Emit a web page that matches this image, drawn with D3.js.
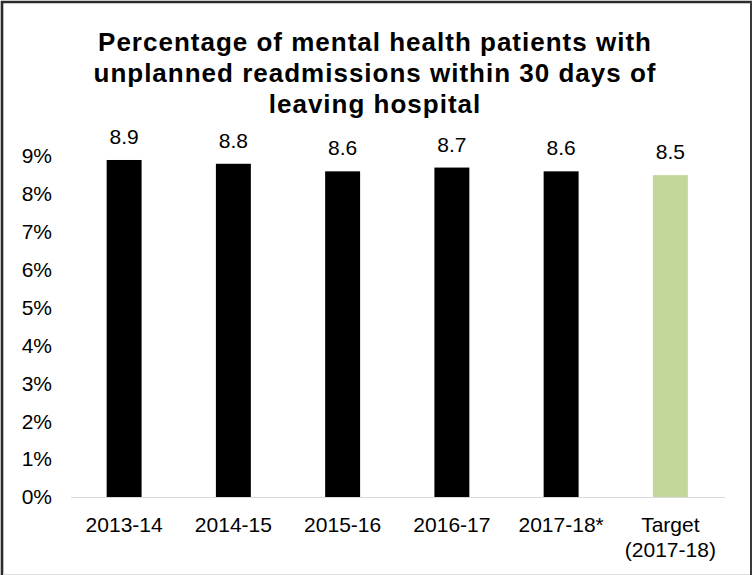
<!DOCTYPE html>
<html>
<head>
<meta charset="utf-8">
<script src="https://cdn.jsdelivr.net/npm/d3@7"></script>
<style>
  html, body { margin: 0; padding: 0; background: #fff; }
  svg { display: block; font-family: "Liberation Sans", Arial, sans-serif; }
</style>
</head>
<body>
<svg id="chart" width="753" height="575"></svg>
<script>
// Readmission rates by year, plus the 2017-18 target
const categories = ["2013-14", "2014-15", "2015-16", "2016-17", "2017-18*", "Target\n(2017-18)"];
const values = [8.9, 8.8, 8.6, 8.7, 8.6, 8.5];
const barColors = ["#000000", "#000000", "#000000", "#000000", "#000000", "#c4d79b"];
const yTicks = [0, 1, 2, 3, 4, 5, 6, 7, 8, 9];
const titleLines = [
  "Percentage of mental health patients with",
  "unplanned readmissions within 30 days of",
  "leaving hospital"
];

const svg = d3.select("#chart");
const W = 753, H = 575;

// Outer frame
svg.append("rect").attr("x", 0).attr("y", 0).attr("width", W).attr("height", H).attr("fill", "#fff");
svg.append("line").attr("x1", 2).attr("x2", 2).attr("y1", 1).attr("y2", 575)
  .attr("stroke", "#2b2b2b").attr("stroke-width", 2.6);
svg.append("line").attr("x1", 1).attr("x2", 752).attr("y1", 2).attr("y2", 2)
  .attr("stroke", "#2b2b2b").attr("stroke-width", 2.6);
svg.append("line").attr("x1", 751).attr("x2", 751).attr("y1", 1).attr("y2", 575)
  .attr("stroke", "#3a3a3a").attr("stroke-width", 2);
svg.append("line").attr("x1", 3).attr("x2", 750).attr("y1", 574.5).attr("y2", 574.5)
  .attr("stroke", "#dcdcdc").attr("stroke-width", 1);

// Title
const title = svg.append("text")
  .attr("text-anchor", "middle")
  .attr("font-size", 26)
  .attr("font-weight", "bold")
  .attr("letter-spacing", "1px")
  .attr("fill", "#000");
titleLines.forEach((t, i) => {
  title.append("tspan").attr("x", 375).attr("y", 51 + i * 31).text(t);
});

// Scales
const x = d3.scaleBand()
  .domain(categories)
  .range([69.5, 725])
  .paddingInner(0.68)
  .paddingOuter(0.34);

const y = d3.scaleLinear()
  .domain([0, 9])
  .range([497, 156.2]);

// Y axis labels (no axis line or ticks)
const yAxis = svg.append("g")
  .attr("transform", "translate(52,0)")
  .call(d3.axisLeft(y).tickValues(yTicks).tickFormat(d => d + "%").tickSize(0).tickPadding(0));
yAxis.select(".domain").remove();
yAxis.selectAll("text")
  .attr("font-size", 21)
  .attr("font-family", "Liberation Sans, Arial, sans-serif")
  .attr("fill", "#000");

// Bars
svg.append("g").selectAll("rect")
  .data(values)
  .join("rect")
  .attr("x", (d, i) => x(categories[i]))
  .attr("y", d => y(d))
  .attr("width", x.bandwidth())
  .attr("height", d => y(0) - y(d))
  .attr("fill", (d, i) => barColors[i]);

// Baseline
svg.append("line")
  .attr("x1", 71).attr("x2", 725)
  .attr("y1", y(0) + 0.5).attr("y2", y(0) + 0.5)
  .attr("stroke", "#d9d9d9").attr("stroke-width", 1.2);

// Value labels
svg.append("g").selectAll("text")
  .data(values)
  .join("text")
  .attr("x", (d, i) => x(categories[i]) + x.bandwidth() / 2)
  .attr("y", d => y(d) - 16)
  .attr("text-anchor", "middle")
  .attr("font-size", 21)
  .attr("fill", "#000")
  .text(d => d.toFixed(1));

// Category labels
const xAxis = svg.append("g")
  .attr("transform", `translate(0,${y(0)})`)
  .call(d3.axisBottom(x).tickSize(0).tickFormat(""));
xAxis.select(".domain").remove();
xAxis.selectAll(".tick").each(function(d) {
  const lines = d.split("\n");
  const t = d3.select(this).append("text")
    .attr("text-anchor", "middle")
    .attr("font-size", 21)
    .attr("font-family", "Liberation Sans, Arial, sans-serif")
    .attr("fill", "#000");
  lines.forEach((s, i) => {
    t.append("tspan").attr("x", 0).attr("y", 35 + i * 25).text(s);
  });
});
</script>
</body>
</html>
